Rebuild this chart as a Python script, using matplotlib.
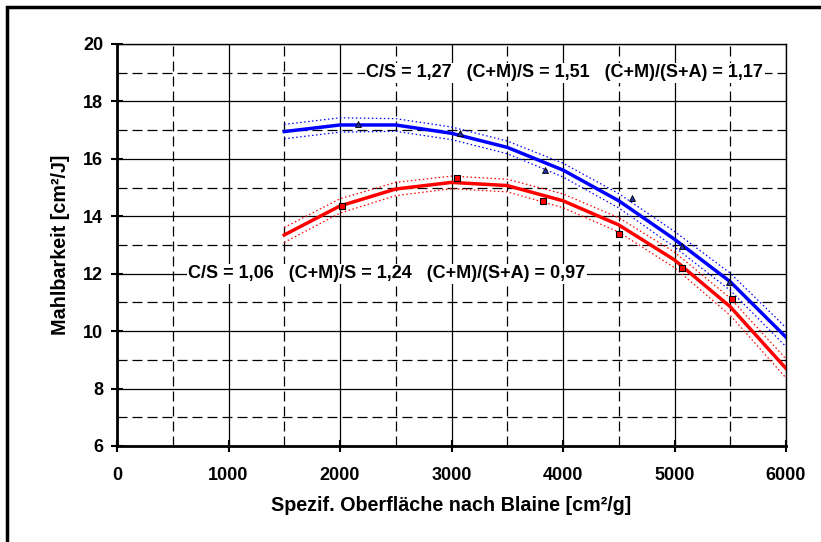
import numpy as np
import matplotlib
matplotlib.use("Agg")
import matplotlib.pyplot as plt
from matplotlib.patches import Rectangle

plt.rcParams['font.family'] = ['Liberation Sans', 'DejaVu Sans']
plt.rcParams['font.weight'] = 'bold'
plt.rcParams['axes.labelweight'] = 'bold'

# fitted curves (piecewise)
x_fit = [1500, 2000, 2500, 3000, 3500, 4000, 4500, 5000, 5500, 6000]
blue_fit = [16.95, 17.18, 17.18, 16.89, 16.40, 15.61, 14.54, 13.20, 11.72, 9.79]
red_fit = [13.35, 14.36, 14.95, 15.18, 15.07, 14.54, 13.70, 12.48, 10.85, 8.70]
blue_band = [0.25, 0.25, 0.22, 0.22, 0.22, 0.24, 0.25, 0.27, 0.30, 0.33]
red_band = [0.26, 0.25, 0.23, 0.22, 0.22, 0.24, 0.25, 0.27, 0.30, 0.33]

# measured points
blue_x = [2160, 3075, 3835, 4620, 5065, 5485]
blue_y = [17.20, 16.89, 15.61, 14.65, 12.98, 11.71]
red_x = [2020, 3045, 3825, 4505, 5070, 5515]
red_y = [14.36, 15.33, 14.53, 13.40, 12.21, 11.12]

label_blue = "C/S = 1,27   (C+M)/S = 1,51   (C+M)/(S+A) = 1,17"
label_red = "C/S = 1,06   (C+M)/S = 1,24   (C+M)/(S+A) = 0,97"

W, H = 821, 542
fig = plt.figure(figsize=(W / 100, H / 100), dpi=100)
ax = fig.add_axes([117 / W, 1 - 446 / H, (786 - 117) / W, (446 - 44) / H])

# outer frame
fig.patches.append(Rectangle((6.5 / W, -0.1), 1.2, 1 - 6.5 / H + 0.1, transform=fig.transFigure,
                             fill=False, edgecolor='black', linewidth=2.5))

ax.set_xlim(0, 6000)
ax.set_ylim(6, 20)
ax.set_xticks(np.arange(0, 6001, 1000))
ax.set_yticks(np.arange(6, 21, 2))
ax.set_xticks(np.arange(500, 6000, 1000), minor=True)
ax.set_yticks(np.arange(7, 20, 2), minor=True)
ax.grid(which='major', color='black', linewidth=0.9, linestyle='-')
ax.grid(which='minor', color='black', linewidth=0.9, linestyle=(0, (8, 4)))
ax.set_axisbelow(True)
ax.tick_params(which='major', direction='inout', length=8, width=1.5, labelsize=13, pad=6)
ax.tick_params(axis='x', which='major', pad=11)
ax.tick_params(which='minor', length=0)
for s in ['left', 'bottom']:
    ax.spines[s].set_linewidth(2)
for s in ['top', 'right']:
    ax.spines[s].set_linewidth(1)

xf = np.array(x_fit)
for fit, band, col in [(blue_fit, blue_band, 'blue'), (red_fit, red_band, 'red')]:
    fit = np.array(fit)
    band = np.array(band)
    ax.plot(xf, fit, color=col, linewidth=2.5, zorder=3)
    ax.plot(xf, fit + band, color=col, linewidth=0.9, linestyle=(0, (1.2, 2)), zorder=3)
    ax.plot(xf, fit - band, color=col, linewidth=0.9, linestyle=(0, (1.2, 2)), zorder=3)

ax.plot(blue_x, blue_y, linestyle='none', marker='^', markersize=5, color='#2030a0',
        markeredgecolor='black', markeredgewidth=0.6, zorder=4)
ax.plot(red_x, red_y, linestyle='none', marker='s', markersize=5, color='red',
        markeredgecolor='black', markeredgewidth=0.8, zorder=4)

bbox = dict(facecolor='white', edgecolor='none', pad=1)
ax.text(2235, 19.0, label_blue, fontsize=13, va='center', ha='left', bbox=bbox, zorder=2)
ax.text(640, 12.0, label_red, fontsize=13, va='center', ha='left', bbox=bbox, zorder=2)

ax.set_xlabel("Spezif. Oberfläche nach Blaine [cm²/g]", fontsize=14.2, labelpad=9)
ax.set_ylabel("Mahlbarkeit [cm²/J]", fontsize=14.2, labelpad=9)

fig.savefig("out.png", dpi=100)
